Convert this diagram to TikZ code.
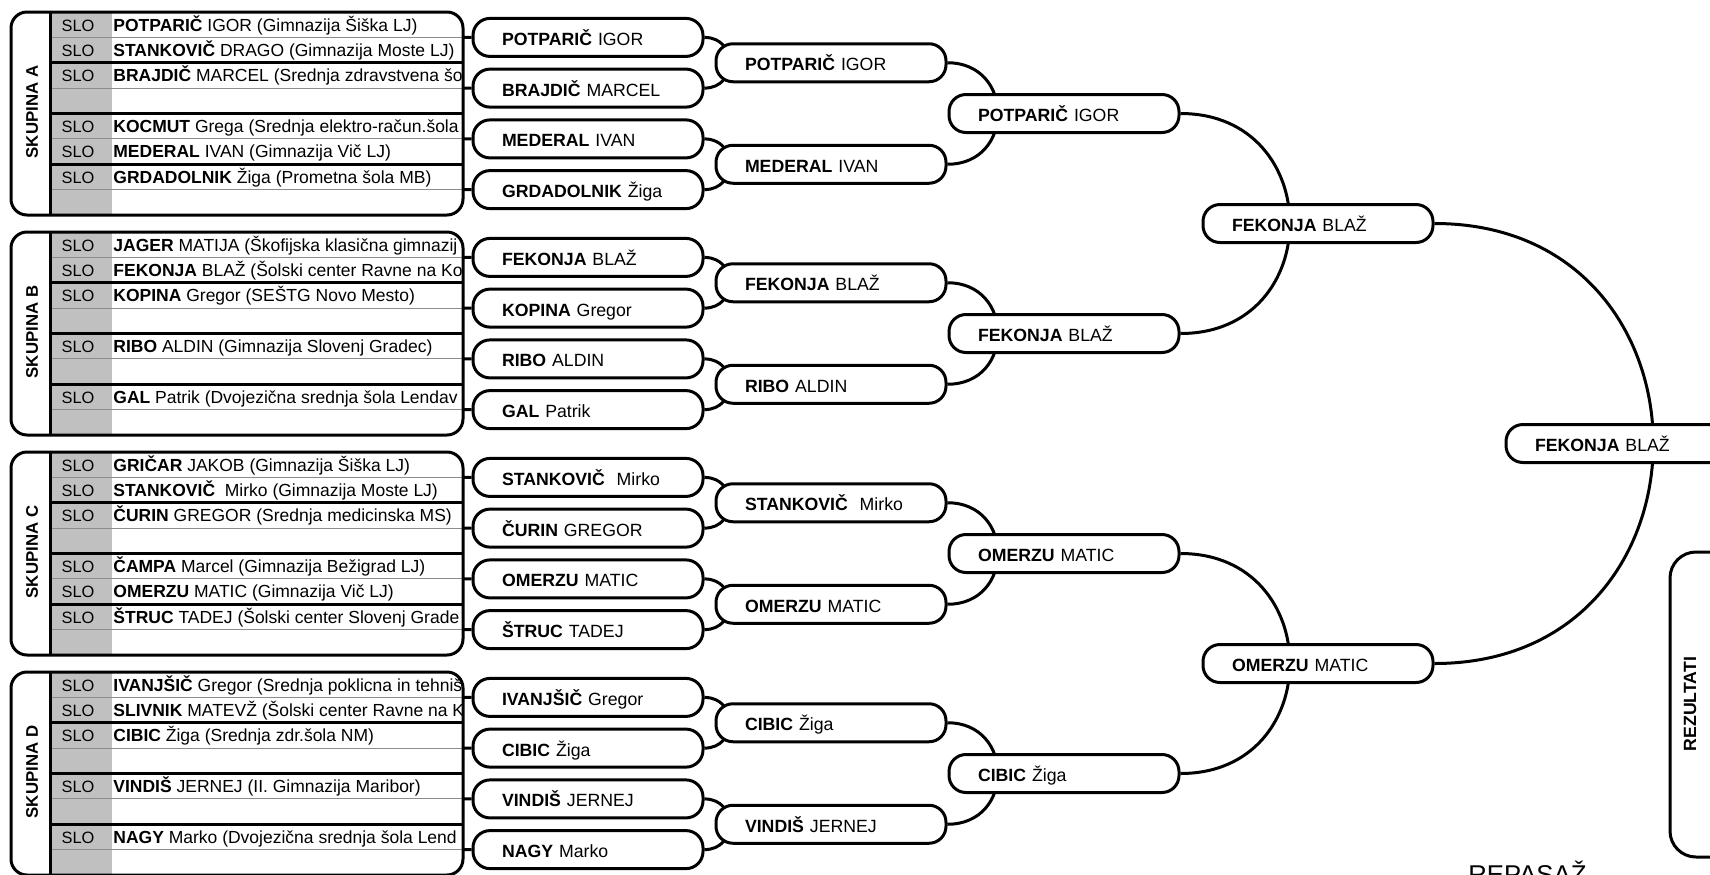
\documentclass[tikz,border=0pt]{standalone}
\usepackage{fontspec}
\setmainfont{Liberation Sans}
\usetikzlibrary{calc, positioning, backgrounds}
\definecolor{slogray}{RGB}{192,192,192}
\definecolor{rulegray}{RGB}{140,140,140}
\tikzset{
  player/.style = {draw, fill=white, line width=1.5pt, rounded corners=8.5pt,
                   minimum height=19pt, text width=86pt, inner xsep=14.5pt,
                   inner ysep=0pt, text height=8pt, text depth=0pt, align=left,
                   font=\fontsize{8.85}{10}\selectfont},
  link/.style = {line width=1.5pt},
  groupframe/.style = {line width=1.5pt, rounded corners=8pt},
  pairrule/.style = {line width=1.5pt},
  rowrule/.style = {line width=0.6pt, rulegray},
  entry/.style = {anchor=base west, inner sep=0pt, font=\fontsize{8.75}{10}\selectfont},
  slo/.style = {anchor=base, inner sep=0pt, font=\fontsize{8.2}{10}\selectfont},
  grouplabel/.style = {rotate=90, inner sep=0pt, font=\bfseries\fontsize{8.4}{10}\selectfont}
}

\begin{document}
\begin{tikzpicture}[x=0.5pt, y=-0.5pt]
  \clip[use as bounding box] (0,0) rectangle (1710,874);

  \foreach \grp/\ty in {A/12, B/232, C/452, D/672} {
    \fill[slogray] (50,\ty) rectangle (112,\ty+203);
    \foreach \kk in {1,3,5,7}
      \draw[rowrule] (50,\ty+25.375*\kk) -- (463,\ty+25.375*\kk);
    \foreach \kk in {2,4,6}
      \draw[pairrule] (50,\ty+25.375*\kk) -- (463,\ty+25.375*\kk);
    \draw[pairrule] (50,\ty) -- (50,\ty+203);
    \draw[groupframe] (11,\ty) rectangle (463,\ty+203);
    \node[grouplabel] (lab\grp) at (32,\ty+100) {SKUPINA \grp};
    \foreach \kk in {1,...,4}
      \coordinate (g\grp\kk) at (463,\ty+50.75*\kk-25.375);
  }

  \begin{scope}
    \clip (0,0) rectangle (461.5,874);
    \foreach \ty/\rw/\who in {
        12/0/{\textbf{POTPARIČ} IGOR (Gimnazija Šiška LJ)},
        12/1/{\textbf{STANKOVIČ} DRAGO (Gimnazija Moste LJ)},
        12/2/{\textbf{BRAJDIČ} MARCEL (Srednja zdravstvena šo},
        12/4/{\textbf{KOCMUT} Grega (Srednja elektro-račun.šola},
        12/5/{\textbf{MEDERAL} IVAN (Gimnazija Vič LJ)},
        12/6/{\textbf{GRDADOLNIK} Žiga (Prometna šola MB)},
        232/0/{\textbf{JAGER} MATIJA (Škofijska klasična gimnazij},
        232/1/{\textbf{FEKONJA} BLAŽ (Šolski center Ravne na Ko},
        232/2/{\textbf{KOPINA} Gregor (SEŠTG Novo Mesto)},
        232/4/{\textbf{RIBO} ALDIN (Gimnazija Slovenj Gradec)},
        232/6/{\textbf{GAL} Patrik (Dvojezična srednja šola Lendav},
        452/0/{\textbf{GRIČAR} JAKOB (Gimnazija Šiška LJ)},
        452/1/{\textbf{STANKOVIČ}\ \ Mirko (Gimnazija Moste LJ)},
        452/2/{\textbf{ČURIN} GREGOR (Srednja medicinska MS)},
        452/4/{\textbf{ČAMPA} Marcel (Gimnazija Bežigrad LJ)},
        452/5/{\textbf{OMERZU} MATIC (Gimnazija Vič LJ)},
        452/6/{\textbf{ŠTRUC} TADEJ (Šolski center Slovenj Grade},
        672/0/{\textbf{IVANJŠIČ} Gregor (Srednja poklicna in tehniš},
        672/1/{\textbf{SLIVNIK} MATEVŽ (Šolski center Ravne na K},
        672/2/{\textbf{CIBIC} Žiga (Srednja zdr.šola NM)},
        672/4/{\textbf{VINDIŠ} JERNEJ (II. Gimnazija Maribor)},
        672/6/{\textbf{NAGY} Marko (Dvojezična srednja šola Lend}} {
      \node[slo] (slo\ty-\rw) at (78,\ty+25.375*\rw+19) {SLO};
      \node[entry] (row\ty-\rw) at (113,\ty+25.375*\rw+19) {\who};
    }
  \end{scope}

  \node[player] (A1) at (588,37.4)  {\textbf{POTPARIČ} IGOR};
  \node[player] (A2) at (588,88.1)  {\textbf{BRAJDIČ} MARCEL};
  \node[player] (A3) at (588,138.9) {\textbf{MEDERAL} IVAN};
  \node[player] (A4) at (588,189.6) {\textbf{GRDADOLNIK} Žiga};
  \node[player] (B1) at (588,257.4) {\textbf{FEKONJA} BLAŽ};
  \node[player] (B2) at (588,308.1) {\textbf{KOPINA} Gregor};
  \node[player] (B3) at (588,358.9) {\textbf{RIBO} ALDIN};
  \node[player] (B4) at (588,409.6) {\textbf{GAL} Patrik};
  \node[player] (C1) at (588,477.4) {\textbf{STANKOVIČ}\ \ Mirko};
  \node[player] (C2) at (588,528.1) {\textbf{ČURIN} GREGOR};
  \node[player] (C3) at (588,578.9) {\textbf{OMERZU} MATIC};
  \node[player] (C4) at (588,629.6) {\textbf{ŠTRUC} TADEJ};
  \node[player] (D1) at (588,697.4) {\textbf{IVANJŠIČ} Gregor};
  \node[player] (D2) at (588,748.1) {\textbf{CIBIC} Žiga};
  \node[player] (D3) at (588,798.9) {\textbf{VINDIŠ} JERNEJ};
  \node[player] (D4) at (588,849.6) {\textbf{NAGY} Marko};

  \node[player, anchor=west] (A12) at ($(A1.east)!.5!(A2.east)+(10,0)$) {\textbf{POTPARIČ} IGOR};
  \node[player, anchor=west] (A34) at ($(A3.east)!.5!(A4.east)+(10,0)$) {\textbf{MEDERAL} IVAN};
  \node[player, anchor=west] (B12) at ($(B1.east)!.5!(B2.east)+(10,0)$) {\textbf{FEKONJA} BLAŽ};
  \node[player, anchor=west] (B34) at ($(B3.east)!.5!(B4.east)+(10,0)$) {\textbf{RIBO} ALDIN};
  \node[player, anchor=west] (C12) at ($(C1.east)!.5!(C2.east)+(10,0)$) {\textbf{STANKOVIČ}\ \ Mirko};
  \node[player, anchor=west] (C34) at ($(C3.east)!.5!(C4.east)+(10,0)$) {\textbf{OMERZU} MATIC};
  \node[player, anchor=west] (D12) at ($(D1.east)!.5!(D2.east)+(10,0)$) {\textbf{CIBIC} Žiga};
  \node[player, anchor=west] (D34) at ($(D3.east)!.5!(D4.east)+(10,0)$) {\textbf{VINDIŠ} JERNEJ};

  \node[player, anchor=west] (A) at ($(A12.east)!.5!(A34.east)$) {\textbf{POTPARIČ} IGOR};
  \node[player, anchor=west] (B) at ($(B12.east)!.5!(B34.east)$) {\textbf{FEKONJA} BLAŽ};
  \node[player, anchor=west] (C) at ($(C12.east)!.5!(C34.east)$) {\textbf{OMERZU} MATIC};
  \node[player, anchor=west] (D) at ($(D12.east)!.5!(D34.east)$) {\textbf{CIBIC} Žiga};

  \node[player, anchor=west] (AB) at ($(A.east)!.5!(B.east)+(21,0)$) {\textbf{FEKONJA} BLAŽ};
  \node[player, anchor=west] (CD) at ($(C.east)!.5!(D.east)+(21,0)$) {\textbf{OMERZU} MATIC};

  \node[player, anchor=west] (win) at ($(AB.east)!.5!(CD.east)+(70,0)$) {\textbf{FEKONJA} BLAŽ};

  \foreach \grp in {A,B,C,D}
    \foreach \kk in {1,...,4}
      \draw[link] (g\grp\kk) -- (\grp\kk.west);

  \begin{scope}[on background layer]
    \foreach \up/\down in {A1/A2, A3/A4, B1/B2, B3/B4, C1/C2, C3/C4, D1/D2, D3/D4,
                           A12/A34, B12/B34, C12/C34, D12/D34, A/B, C/D, AB/CD}
      \draw[link] (\up.east) to[out=0, in=0, looseness=1.7] (\down.east);
  \end{scope}

  \draw[groupframe, rounded corners=13pt] (1670,552) rectangle (1770,857);
  \node[rotate=90, font=\bfseries\fontsize{8.85}{10}\selectfont] (res) at (1690,704) {REZULTATI};
  \node[anchor=base west, inner sep=0pt, font=\fontsize{12.85}{14}\selectfont] (rep) at (1468,883) {REPASAŽ};
\end{tikzpicture}
\end{document}
